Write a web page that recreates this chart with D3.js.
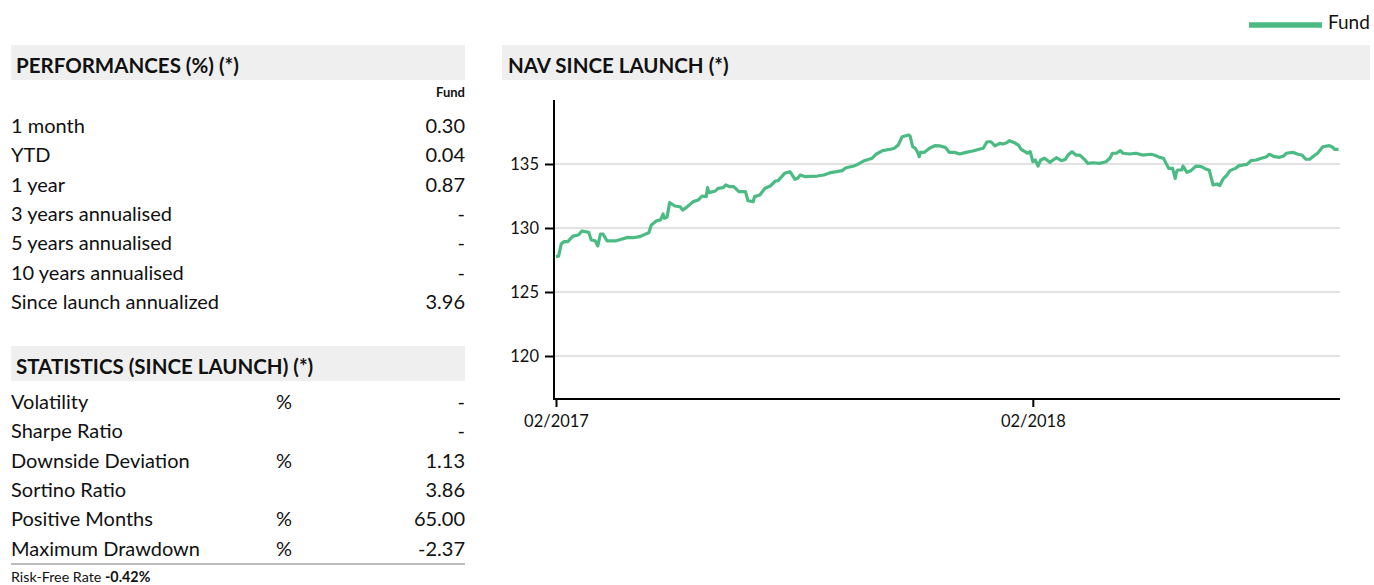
<!DOCTYPE html>
<html lang="en">
<head>
    <meta charset="UTF-8">
    <title>Fund factsheet</title>
    <script src="https://d3js.org/d3.v7.min.js"></script>
    <style>
        body { margin: 0; background: #fff; }
        svg { display: block; font-family: Lato, "Open Sans", sans-serif; }
        text { fill: #111; }
        .head { font-weight: bold; font-size: 20.5px; }
        .row { font-size: 20px; }
        .axis text { font-family: Lato, sans-serif; font-size: 16.5px; fill: #111; }
        .axis line { stroke: #000; stroke-width: 2px; }
    </style>
</head>
<body>
<svg width="1374" height="585"></svg>
<script>
    // performance table
    const perfLabels = ["1 month", "YTD", "1 year", "3 years annualised", "5 years annualised",
        "10 years annualised", "Since launch annualized"];
    const perfValues = ["0.30", "0.04", "0.87", "-", "-", "-", "3.96"];

    // statistics table
    const statLabels = ["Volatility", "Sharpe Ratio", "Downside Deviation", "Sortino Ratio",
        "Positive Months", "Maximum Drawdown"];
    const statUnits = ["%", "", "%", "", "%", "%"];
    const statValues = ["-", "-", "1.13", "3.86", "65.00", "-2.37"];
    const riskFree = "-0.42%";

    // NAV series
    const navDates = ["2017-02-01","2017-02-03","2017-02-05","2017-02-07","2017-02-10","2017-02-14","2017-02-18",
        "2017-02-21","2017-02-26","2017-02-28","2017-03-03","2017-03-05","2017-03-07","2017-03-09","2017-03-12",
        "2017-03-19","2017-03-23","2017-03-28","2017-04-01","2017-04-06","2017-04-10","2017-04-13","2017-04-15",
        "2017-04-19","2017-04-22","2017-04-24","2017-04-25","2017-04-27","2017-04-29","2017-05-03","2017-05-07",
        "2017-05-09","2017-05-12","2017-05-17","2017-05-21","2017-05-24","2017-05-27","2017-05-28","2017-05-29",
        "2017-06-03","2017-06-05","2017-06-09","2017-06-11","2017-06-14","2017-06-17","2017-06-21","2017-06-26",
        "2017-06-28","2017-07-02","2017-07-03","2017-07-07","2017-07-11","2017-07-15","2017-07-19","2017-07-21",
        "2017-07-26","2017-07-30","2017-07-31","2017-08-03","2017-08-05","2017-08-07","2017-08-11","2017-08-20",
        "2017-08-25","2017-08-30","2017-09-04","2017-09-08","2017-09-11","2017-09-17","2017-09-20","2017-09-25",
        "2017-10-01","2017-10-04","2017-10-09","2017-10-15","2017-10-18","2017-10-21","2017-10-24","2017-10-29",
        "2017-10-30","2017-11-01","2017-11-03","2017-11-05","2017-11-06","2017-11-07","2017-11-10","2017-11-14",
        "2017-11-18","2017-11-22","2017-11-26","2017-11-29","2017-12-03","2017-12-07","2017-12-12","2017-12-17",
        "2017-12-22","2017-12-25","2017-12-28","2017-12-31","2018-01-03","2018-01-07","2018-01-09","2018-01-12",
        "2018-01-14","2018-01-18","2018-01-21","2018-01-23","2018-01-26","2018-01-28","2018-01-30","2018-01-31",
        "2018-02-01","2018-02-03","2018-02-05","2018-02-07","2018-02-10","2018-02-14","2018-02-19","2018-02-23",
        "2018-02-26","2018-02-28","2018-03-03","2018-03-06","2018-03-09","2018-03-13","2018-03-15","2018-03-19",
        "2018-03-24","2018-03-29","2018-04-01","2018-04-03","2018-04-06","2018-04-09","2018-04-11","2018-04-16",
        "2018-04-21","2018-04-26","2018-05-02","2018-05-05","2018-05-09","2018-05-12","2018-05-14","2018-05-16",
        "2018-05-19","2018-05-21","2018-05-22","2018-05-23","2018-05-26","2018-05-27","2018-05-30","2018-06-02",
        "2018-06-06","2018-06-10","2018-06-14","2018-06-16","2018-06-19","2018-06-22","2018-06-24","2018-06-27",
        "2018-06-29","2018-07-02","2018-07-06","2018-07-09","2018-07-15","2018-07-18","2018-07-22","2018-07-26",
        "2018-07-30","2018-08-01","2018-08-05","2018-08-09","2018-08-12","2018-08-14","2018-08-19","2018-08-23",
        "2018-08-26","2018-08-29","2018-09-01","2018-09-04","2018-09-07","2018-09-11","2018-09-16","2018-09-18",
        "2018-09-20","2018-09-23"];
    const navValues = [127.76,127.80,128.75,128.93,128.93,129.37,129.45,
        129.77,129.66,129.06,129.00,128.60,129.53,129.53,129.00,
        129.00,129.12,129.27,129.24,129.32,129.50,129.63,130.23,
        130.57,130.63,131.10,130.76,130.84,131.98,131.72,131.66,
        131.40,131.62,132.06,132.19,132.50,132.45,133.15,132.76,
        132.89,133.10,133.15,133.36,133.23,133.23,132.84,132.84,
        132.13,132.06,132.45,132.58,133.10,133.28,133.67,133.70,
        134.27,134.40,134.27,133.80,133.88,134.14,134.01,134.06,
        134.14,134.32,134.40,134.48,134.71,134.84,134.97,135.26,
        135.45,135.76,136.04,136.15,136.23,136.48,137.13,137.27,
        137.19,136.35,136.23,135.88,135.57,135.91,135.91,136.23,
        136.43,136.41,136.30,135.91,135.91,135.78,135.91,136.02,
        136.15,136.23,136.74,136.74,136.41,136.62,136.56,136.66,
        136.82,136.66,136.48,136.15,135.96,135.84,135.96,135.57,
        135.18,135.31,134.84,135.31,135.45,135.13,135.49,135.26,
        135.37,135.70,135.96,135.70,135.70,135.31,135.05,135.10,
        135.05,135.18,135.45,135.84,135.84,136.04,135.84,135.78,
        135.84,135.70,135.76,135.70,135.52,135.45,135.05,134.66,
        134.66,133.88,134.40,134.53,134.53,134.84,134.35,134.48,
        134.84,134.79,134.58,134.53,133.36,133.44,133.31,133.88,
        134.06,134.48,134.66,134.87,134.97,135.26,135.31,135.45,
        135.57,135.76,135.57,135.52,135.62,135.84,135.91,135.76,
        135.70,135.37,135.37,135.62,135.84,136.35,136.43,136.35,
        136.15,136.15];
    const yTicks = [120, 125, 130, 135];
    const xTicks = ["2017-02-01", "2018-02-01"];

    const svg = d3.select("svg");
    const parse = d3.timeParse("%Y-%m-%d");
    const green = "#4bbb83";
    const headGray = "#efefef";

    // ---------- left: performances ----------
    const left = 11, leftRight = 465;
    svg.append("rect").attr("x", left).attr("y", 45).attr("width", leftRight - left).attr("height", 35)
        .attr("fill", headGray);
    svg.append("text").attr("class", "head").attr("x", 16).attr("y", 73).text("PERFORMANCES (%) (*)");
    svg.append("text").attr("x", leftRight).attr("y", 97).attr("text-anchor", "end")
        .attr("font-size", 13).attr("font-weight", "bold").text("Fund");

    const perfRows = svg.append("g");
    perfRows.selectAll("text.lab").data(perfLabels).join("text")
        .attr("class", "row lab").attr("x", left).attr("y", (d, i) => 133 + i * 29.3).text(d => d);
    perfRows.selectAll("text.val").data(perfValues).join("text")
        .attr("class", "row val").attr("x", leftRight).attr("text-anchor", "end")
        .attr("y", (d, i) => 133 + i * 29.3).text(d => d);

    // ---------- left: statistics ----------
    svg.append("rect").attr("x", left).attr("y", 346).attr("width", leftRight - left).attr("height", 35)
        .attr("fill", headGray);
    svg.append("text").attr("class", "head").attr("x", 16).attr("y", 374).text("STATISTICS (SINCE LAUNCH) (*)");

    const statRows = svg.append("g");
    statRows.selectAll("text.lab").data(statLabels).join("text")
        .attr("class", "row lab").attr("x", left).attr("y", (d, i) => 409 + i * 29.3).text(d => d);
    statRows.selectAll("text.unit").data(statUnits).join("text")
        .attr("class", "row unit").attr("x", 276).attr("y", (d, i) => 409 + i * 29.3).text(d => d);
    statRows.selectAll("text.val").data(statValues).join("text")
        .attr("class", "row val").attr("x", leftRight).attr("text-anchor", "end")
        .attr("y", (d, i) => 409 + i * 29.3).text(d => d);

    svg.append("line").attr("x1", left).attr("x2", leftRight).attr("y1", 564).attr("y2", 564)
        .attr("stroke", "#a6a6a6").attr("stroke-width", 1.5);
    const rf = svg.append("text").attr("x", left).attr("y", 582).attr("font-size", 14.3);
    rf.append("tspan").text("Risk-Free Rate ");
    rf.append("tspan").attr("font-weight", "bold").text(riskFree);

    // ---------- right: NAV chart ----------
    svg.append("rect").attr("x", 502).attr("y", 45).attr("width", 868).attr("height", 35).attr("fill", headGray);
    svg.append("text").attr("class", "head").attr("x", 508).attr("y", 73).text("NAV SINCE LAUNCH (*)");

    const plot = {left: 554, right: 1340, top: 100, bottom: 399};
    const series = navDates.map((d, i) => ({date: parse(d), value: navValues[i]}));

    const xScale = d3.scaleTime()
        .domain([parse("2017-02-01"), parse("2018-09-23")])
        .range([556, 1338.5]);
    const yScale = d3.scaleLinear()
        .domain([116.64, 140])
        .range([plot.bottom, plot.top]);

    // gridlines
    svg.append("g").selectAll("line").data(yTicks).join("line")
        .attr("x1", plot.left).attr("x2", plot.right)
        .attr("y1", d => yScale(d)).attr("y2", d => yScale(d))
        .attr("stroke", "#d9d9d9").attr("stroke-width", 1.3);

    // axes
    const yAxis = svg.append("g").attr("class", "axis")
        .attr("transform", `translate(${plot.left},0)`)
        .call(d3.axisLeft(yScale).tickValues(yTicks).tickSize(9).tickPadding(6).tickSizeOuter(0));
    yAxis.select(".domain").remove();
    const xAxis = svg.append("g").attr("class", "axis")
        .attr("transform", `translate(0,${plot.bottom})`)
        .call(d3.axisBottom(xScale).tickValues(xTicks.map(parse)).tickFormat(d3.timeFormat("%m/%Y"))
            .tickSize(8).tickPadding(6).tickSizeOuter(0));
    xAxis.select(".domain").remove();
    xAxis.selectAll("text").attr("dy", "0.85em");

    svg.append("line").attr("x1", plot.left).attr("x2", plot.left)
        .attr("y1", plot.top).attr("y2", plot.bottom + 1).attr("stroke", "#000").attr("stroke-width", 2);
    svg.append("line").attr("x1", plot.left - 1).attr("x2", plot.right)
        .attr("y1", plot.bottom).attr("y2", plot.bottom).attr("stroke", "#000").attr("stroke-width", 2);

    // NAV line
    svg.append("path").datum(series)
        .attr("fill", "none").attr("stroke", green).attr("stroke-width", 3.2)
        .attr("stroke-linejoin", "round")
        .attr("d", d3.line().x(d => xScale(d.date)).y(d => yScale(d.value)));

    // legend
    svg.append("line").attr("x1", 1249).attr("x2", 1322).attr("y1", 25).attr("y2", 25)
        .attr("stroke", green).attr("stroke-width", 5.5);
    svg.append("text").attr("x", 1328).attr("y", 29).attr("font-size", 19).text("Fund");
</script>
</body>
</html>
